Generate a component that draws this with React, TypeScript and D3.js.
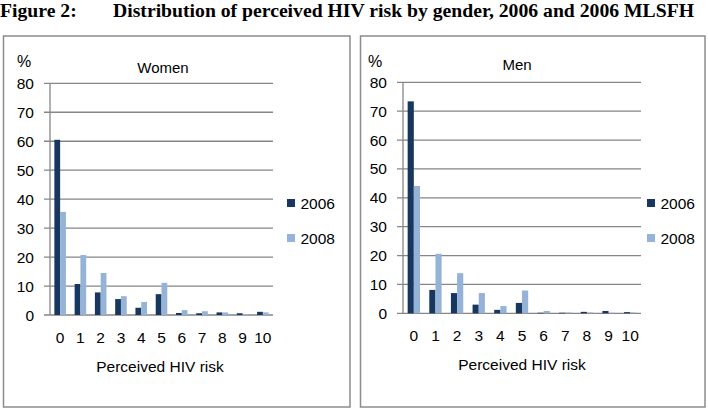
import * as d3 from "d3";

const categories = ["0", "1", "2", "3", "4", "5", "6", "7", "8", "9", "10"];
const years = ["2006", "2008"];
const yTicks = [0, 10, 20, 30, 40, 50, 60, 70, 80];

const women2006 = [60.5, 10.7, 7.8, 5.5, 2.5, 7.2, 0.7, 0.6, 0.9, 0.6, 1.1];
const women2008 = [35.6, 20.7, 14.5, 6.5, 4.5, 11.1, 1.7, 1.3, 0.9, 0.3, 0.9];
const men2006 = [73.4, 8.1, 7.0, 3.0, 1.2, 3.6, 0.2, 0.2, 0.5, 0.8, 0.4];
const men2008 = [44.1, 20.6, 13.9, 7.0, 2.5, 7.9, 0.8, 0.3, 0.3, 0.2, 0.3];

const colors = ["#17375E", "#95B3D7"];
const FONT = "Liberation Sans, Arial, sans-serif";
const SERIF = "Liberation Serif, Times New Roman, serif";

interface PanelProps {
  title: string;
  series: number[][];
  box: [number, number, number, number];
  plot: { left: number; right: number; top: number; bottom: number };
  titleX: number;
  titleY: number;
  pctX: number;
  xTitleX: number;
  legendX: number;
}

function Panel({ title, series, box, plot, titleX, titleY, pctX, xTitleX, legendX }: PanelProps) {
  const x = d3.scaleBand<string>().domain(categories).range([plot.left, plot.right]).paddingInner(0.43).paddingOuter(0.215);
  const xs = d3.scaleBand<string>().domain(years).range([0, x.bandwidth()]);
  const y = d3.scaleLinear().domain([0, 80]).range([plot.bottom, plot.top]);
  const tickStart = plot.left - 6;

  return (
    <g fontFamily={FONT}>
      <rect x={box[0]} y={box[1]} width={box[2]} height={box[3]} fill="#fff" stroke="#8c8c8c" strokeWidth={1.5} />
      {yTicks.map((t) => (
        <g key={t}>
          <line x1={tickStart} x2={plot.right} y1={y(t)} y2={y(t)} stroke="#868686" strokeWidth={1.3} />
          <text x={tickStart - 10} y={y(t)} textAnchor="end" dominantBaseline="central" fontSize={15.5} fill="#000">
            {t}
          </text>
        </g>
      ))}
      <line x1={plot.left} x2={plot.left} y1={y(80)} y2={y(0)} stroke="#868686" strokeWidth={1.3} />
      {series.map((vals, si) =>
        vals.map((v, i) => (
          <rect
            key={`${si}-${i}`}
            x={(x(categories[i]) ?? 0) + (xs(years[si]) ?? 0)}
            y={y(v)}
            width={xs.bandwidth()}
            height={y(0) - y(v)}
            fill={colors[si]}
          />
        ))
      )}
      {categories.map((c) => (
        <text key={c} x={(x(c) ?? 0) + x.bandwidth() / 2} y={plot.bottom + 22} textAnchor="middle" dominantBaseline="central" fontSize={15.5}>
          {c}
        </text>
      ))}
      <text x={pctX} y={67} fontSize={16}>%</text>
      <text x={titleX} y={titleY} textAnchor="middle" fontSize={15}>{title}</text>
      <text x={xTitleX} y={plot.bottom + 51} textAnchor="middle" dominantBaseline="central" fontSize={15.5}>
        Perceived HIV risk
      </text>
      {years.map((yr, i) => (
        <g key={yr} transform={`translate(${legendX},${203 + i * 35})`}>
          <rect x={0} y={-4} width={8} height={8} fill={colors[i]} />
          <text x={13.5} y={0} dominantBaseline="central" fontSize={15.5}>{yr}</text>
        </g>
      ))}
    </g>
  );
}

export default function App() {
  return (
    <div style={{ position: "absolute", left: 0, top: 0 }}>
      <svg width={708} height={410} style={{ display: "block", background: "#fff" }}>
        <text x={0} y={17} fontFamily={SERIF} fontWeight="bold" fontSize={19.7}>
          Figure 2:
        </text>
        <text x={113} y={17} fontFamily={SERIF} fontWeight="bold" fontSize={19.7}>
          Distribution of perceived HIV risk by gender, 2006 and 2006 MLSFH
        </text>
        <Panel
          title="Women"
          series={[women2006, women2008]}
          box={[3.5, 36, 346.5, 371]}
          plot={{ left: 50, right: 273, top: 83.3, bottom: 315 }}
          titleX={163}
          titleY={73}
          pctX={17}
          xTitleX={160}
          legendX={287}
        />
        <Panel
          title="Men"
          series={[men2006, men2008]}
          box={[360.5, 36, 344.5, 371]}
          plot={{ left: 403, right: 641, top: 82.3, bottom: 313.3 }}
          titleX={517}
          titleY={70}
          pctX={368}
          xTitleX={522}
          legendX={647}
        />
      </svg>
    </div>
  );
}
